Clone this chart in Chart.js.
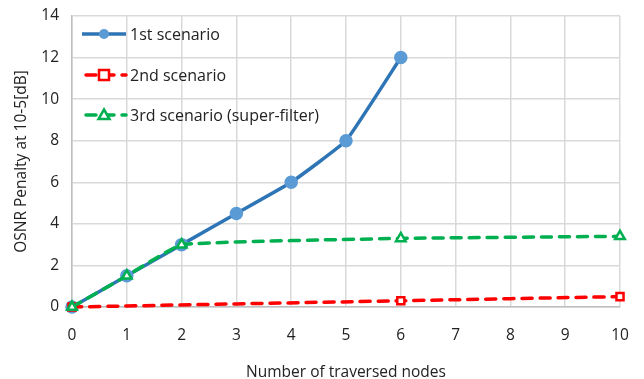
<!DOCTYPE html>
<html>
<head>
<meta charset="utf-8">
<script src="https://cdn.jsdelivr.net/npm/chart.js@4/dist/chart.umd.min.js"></script>
<style>
  html, body { margin: 0; padding: 0; background: #fff; }
  #wrap { position: relative; width: 644px; height: 379px; }
  #legend { position: absolute; left: 80px; top: 14px; font-family: "Open Sans", sans-serif; font-size: 16px; color: #222; }
  .item { display: flex; align-items: center; height: 40.5px; }
  .item svg { margin-right: 2px; }
</style>
</head>
<body>
<div id="wrap">
  <canvas id="chart" width="644" height="379"></canvas>
  <div id="legend"></div>
</div>
<script>
const seriesNames = ["1st scenario", "2nd scenario", "3rd scenario (super-filter)"];

const nodes1 = [0, 1, 2, 3, 4, 5, 6];
const penalty1 = [0, 1.5, 3, 4.5, 6, 8, 12];

const nodes2 = [0, 6, 10];
const penalty2 = [0, 0.3, 0.5];

const nodes3 = [0, 1, 2, 6, 10];
const penalty3 = [0, 1.5, 3, 3.3, 3.4];

const xTicks = [0, 1, 2, 3, 4, 5, 6, 7, 8, 9, 10];
const yTicks = [0, 2, 4, 6, 8, 10, 12, 14];

const toPoints = (xs, ys) => xs.map((x, i) => ({ x: x, y: ys[i] }));

const font = { family: "Open Sans", size: 15.5 };

new Chart(document.getElementById("chart"), {
  type: "line",
  data: {
    datasets: [
      {
        label: seriesNames[0],
        data: toPoints(nodes1, penalty1),
        borderColor: "#2e75b6",
        borderWidth: 3.5,
        tension: 0.1,
        pointStyle: "circle",
        pointRadius: 5,
        pointBackgroundColor: "#5b9bd5",
        pointBorderColor: "#5b9bd5",
        clip: false,
        order: 3
      },
      {
        label: seriesNames[1],
        data: toPoints(nodes2, penalty2),
        borderColor: "#ff0000",
        borderWidth: 3.5,
        borderDash: [10, 8],
        borderCapStyle: "round",
        tension: 0.3,
        pointStyle: "rect",
        pointRadius: 5,
        pointBackgroundColor: "#fff",
        pointBorderColor: "#ff0000",
        pointBorderWidth: 2.5,
        clip: false,
        order: 2
      },
      {
        label: seriesNames[2],
        data: toPoints(nodes3, penalty3),
        borderColor: "#00b050",
        borderWidth: 3.5,
        borderDash: [10, 8],
        borderCapStyle: "round",
        tension: 0.1,
        pointStyle: "triangle",
        pointRadius: 5.5,
        pointBackgroundColor: "#fff",
        pointBorderColor: "#00b050",
        pointBorderWidth: 2.5,
        clip: false,
        order: 1
      }
    ]
  },
  options: {
    responsive: false,
    animation: false,
    layout: { padding: { top: 16, right: 24, left: 8, bottom: 0 } },
    plugins: { legend: { display: false }, tooltip: { enabled: false } },
    scales: {
      x: {
        type: "linear",
        min: 0,
        max: 10,
        afterBuildTicks: s => { s.ticks = xTicks.map(v => ({ value: v })); },
        afterFit: s => { s.height = 72; },
        // invisible ticks give the label gap without widening the layout padding
        grid: { color: "#d9d9d9", lineWidth: 1.5, drawTicks: true, tickLength: 15, tickColor: "rgba(0,0,0,0)" },
        border: { color: "#bfbfbf", width: 1.5 },
        ticks: { color: "#222", font: font, padding: 4 },
        title: { display: true, text: "Number of traversed nodes", color: "#222", font: font, padding: { top: 6, bottom: -3 } }
      },
      y: {
        min: 0,
        max: 14,
        afterBuildTicks: s => { s.ticks = yTicks.map(v => ({ value: v })); },
        afterFit: s => { s.width = 64; },
        grid: { color: "#d9d9d9", lineWidth: 1.5, drawTicks: true, tickLength: 12, tickColor: "rgba(0,0,0,0)" },
        border: { color: "#bfbfbf", width: 1.5 },
        ticks: { color: "#222", font: font, padding: 1 },
        title: { display: true, text: "OSNR Penalty at 10-5[dB]", color: "#222", font: font, padding: { bottom: 4 } }
      }
    }
  }
});

// legend drawn as html with small svg samples
const legend = document.getElementById("legend");
const samples = [
  '<line x1="2" y1="8" x2="46" y2="8" stroke="#2e75b6" stroke-width="3.5"/><circle cx="24" cy="8" r="5" fill="#5b9bd5"/>',
  '<line x1="2" y1="8" x2="46" y2="8" stroke="#ff0000" stroke-width="3.5" stroke-dasharray="10 8" stroke-linecap="round" stroke-dashoffset="-4"/><rect x="19" y="3" width="10" height="10" fill="#fff" stroke="#ff0000" stroke-width="2.5"/>',
  '<line x1="2" y1="8" x2="46" y2="8" stroke="#00b050" stroke-width="3.5" stroke-dasharray="10 8" stroke-linecap="round" stroke-dashoffset="-4"/><polygon points="24,2.5 29.5,12 18.5,12" fill="#fff" stroke="#00b050" stroke-width="2.5"/>'
];
seriesNames.forEach((name, i) => {
  const item = document.createElement("div");
  item.className = "item";
  item.innerHTML = '<svg width="48" height="16">' + samples[i] + '</svg><span>' + name + '</span>';
  legend.appendChild(item);
});
</script>
</body>
</html>
